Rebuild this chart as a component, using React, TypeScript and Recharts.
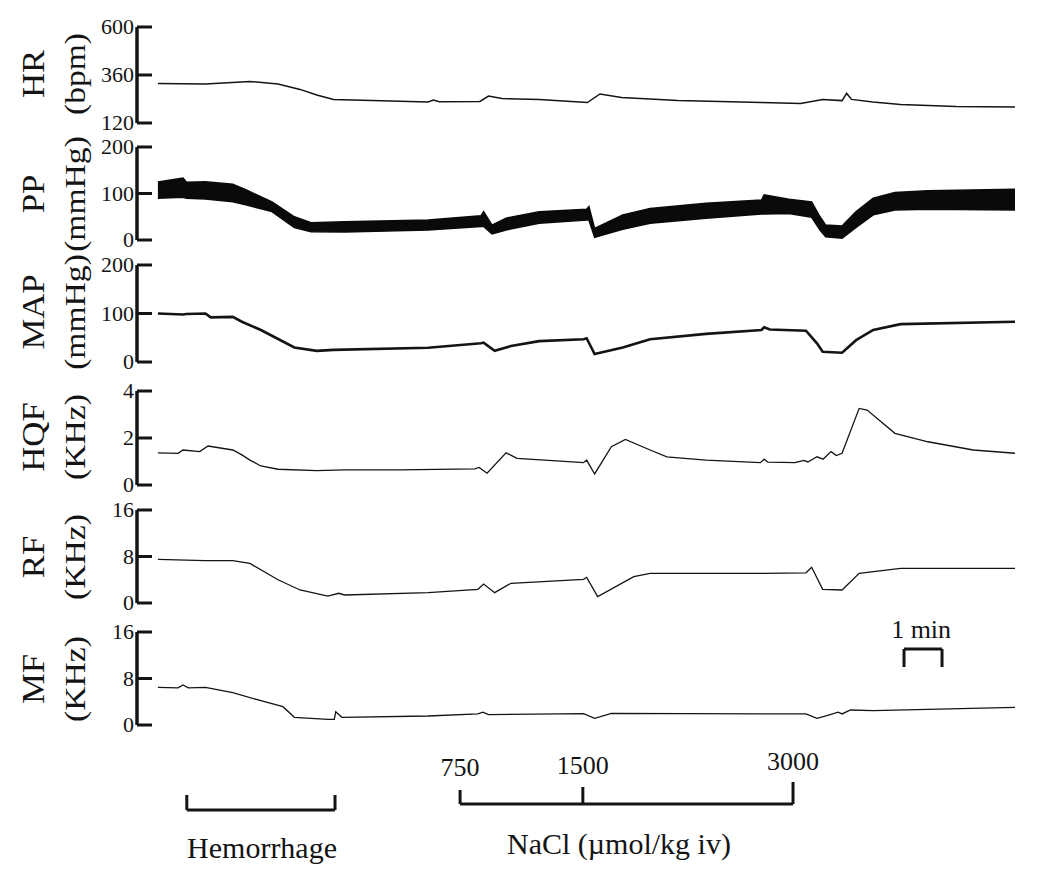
import React from 'react';
import { LineChart, Line, AreaChart, Area, XAxis, YAxis, ReferenceLine, ReferenceDot, Label } from 'recharts';

// ---------- data (time in minutes from start of recording) ----------
const hrTime = [0, 1.25, 2.42, 3.16, 3.74, 4.18, 4.62, 5.63, 7.11, 7.25, 7.4, 8.47, 8.7, 9.05, 10.03, 11.3, 11.63, 12.2, 13.68, 15.88, 16.91, 17.49, 18.0, 18.12, 18.25, 18.81, 19.54, 21.0, 22.55];
const hrValues = [318, 315, 328, 315, 288, 260, 238, 232, 225, 235, 226, 228, 255, 242, 238, 222, 265, 248, 232, 222, 218, 238, 232, 268, 238, 225, 212, 202, 200];

const ppTime = [0, 0.66, 0.75, 1.25, 1.97, 2.34, 3.0, 3.59, 4.03, 4.91, 7.11, 8.5, 8.57, 8.79, 9.16, 10.03, 11.28, 11.34, 11.49, 12.23, 12.95, 14.42, 15.88, 15.95, 16.6, 17.2, 17.42, 17.57, 18.0, 18.37, 18.82, 19.39, 20.26, 22.55];
const ppHigh = [125, 133, 124, 125, 120, 107, 82, 50, 37, 39, 43, 52, 61, 32, 47, 61, 66, 72, 25, 54, 68, 79, 86, 97, 87.5, 82, 50, 32, 30, 61, 90, 102, 106, 109];
const ppLow = [90, 92, 90, 88, 82, 75, 61, 27, 18, 17, 21.5, 29, 29, 13, 21.5, 36, 43, 43, 6, 23, 36, 47, 56, 56, 57, 49, 21.5, 7, 4, 27, 54, 64.5, 66, 64.5];

const mapTime = [0, 0.66, 0.75, 1.25, 1.39, 1.97, 2.21, 2.71, 3.59, 4.18, 4.62, 7.11, 8.5, 8.57, 8.86, 9.29, 10.03, 11.2, 11.28, 11.49, 12.23, 12.95, 14.42, 15.88, 15.95, 16.1, 17.05, 17.34, 17.49, 18.0, 18.37, 18.82, 19.54, 22.55];
const mapValues = [100, 98, 99, 100, 92, 93, 83, 66, 30, 23, 25, 29.5, 38.5, 40, 23, 33, 43, 47, 49, 16.5, 30, 47, 58, 66, 71.5, 67, 64.5, 38.5, 21, 19, 45, 66, 78, 83];

const hqfTime = [0, 0.53, 0.66, 1.1, 1.32, 1.97, 2.21, 2.42, 2.71, 3.16, 4.18, 4.91, 6.37, 8.34, 8.45, 8.66, 9.16, 9.45, 11.2, 11.28, 11.49, 11.93, 12.3, 12.95, 13.39, 14.42, 15.85, 15.95, 16.05, 16.76, 17.0, 17.1, 17.34, 17.5, 17.71, 17.85, 18.0, 18.45, 18.66, 19.39, 20.26, 21.45, 22.55];
const hqfValues = [1.37, 1.35, 1.49, 1.42, 1.66, 1.49, 1.28, 1.06, 0.81, 0.67, 0.61, 0.64, 0.64, 0.69, 0.75, 0.5, 1.37, 1.13, 0.95, 1.06, 0.47, 1.63, 1.94, 1.49, 1.2, 1.06, 0.95, 1.1, 0.97, 0.95, 1.05, 0.98, 1.2, 1.1, 1.42, 1.25, 1.35, 3.26, 3.19, 2.2, 1.84, 1.49, 1.35];

const rfTime = [0, 1.25, 1.97, 2.42, 3.16, 3.74, 4.47, 4.76, 4.91, 7.11, 8.42, 8.57, 8.86, 9.29, 11.2, 11.28, 11.57, 12.52, 12.95, 15.88, 17.05, 17.2, 17.49, 18.0, 18.45, 19.54, 22.55];
const rfValues = [7.5, 7.3, 7.3, 6.8, 4.0, 2.24, 1.2, 1.67, 1.38, 1.78, 2.36, 3.27, 1.78, 3.39, 4.07, 4.42, 1.09, 4.53, 5.1, 5.1, 5.2, 6.14, 2.36, 2.24, 5.1, 5.97, 5.97];

const mfTime = [0, 0.53, 0.66, 0.8, 1.25, 1.97, 2.71, 3.29, 3.59, 4.47, 4.64, 4.68, 4.84, 7.11, 8.42, 8.55, 8.7, 11.2, 11.49, 11.93, 15.88, 17.05, 17.34, 17.6, 17.9, 18.0, 18.22, 18.82, 22.55];
const mfValues = [6.49, 6.4, 6.88, 6.4, 6.49, 5.56, 4.18, 3.15, 1.32, 0.97, 0.97, 2.29, 1.32, 1.55, 1.9, 2.2, 1.8, 1.95, 1.15, 2.0, 1.9, 1.9, 1.15, 1.6, 2.2, 1.9, 2.58, 2.46, 3.04];

const hrTicks = [120, 360, 600];
const ppTicks = [0, 100, 200];
const mapTicks = [0, 100, 200];
const hqfTicks = [0, 2, 4];
const rfTicks = [0, 8, 16];
const mfTicks = [0, 8, 16];

const panelNames = ['HR', 'PP', 'MAP', 'HQF', 'RF', 'MF'];
const panelUnits = ['(bpm)', '(mmHg)', '(mmHg)', '(KHz)', '(KHz)', '(KHz)'];

// events
const hemorrhageWindow = [0.76, 4.66];
const naclTimes = [7.95, 11.18, 16.71];
const naclDoses = ['750', '1500', '3000'];
const scaleBar = [19.63, 20.63];

// ---------- style / layout ----------
const X_DOMAIN: [number, number] = [-0.55, 22.55];
const FONT = '"Liberation Serif", "Times New Roman", Times, serif';
const INK = '#141414';
const CHART_W = 1050;
const PLOT_LEFT = 137;
const RIGHT_MARGIN = 35;

const zip = (ts: number[], vs: number[]) => ts.map((t, i) => ({ t, v: vs[i] }));

const AxisTick = (props: any) => {
  const { x, y, payload } = props;
  return (
    <g>
      <line x1={x} x2={x + 15} y1={y} y2={y} stroke={INK} strokeWidth={3} />
      <text x={x - 3} y={y + 7} textAnchor="end" fontFamily={FONT} fontSize={22} fill={INK}>
        {payload.value}
      </text>
    </g>
  );
};

type PanelDef = {
  top: number;
  bottom: number;
  domain: [number, number];
  ticks: number[];
  kind: 'line' | 'band';
  data: any[];
  strokeWidth: number;
  labelY: number;
};

const panels: PanelDef[] = [
  { top: 27, bottom: 123, domain: [120, 600], ticks: hrTicks, kind: 'line', data: zip(hrTime, hrValues), strokeWidth: 1.5, labelY: 74 },
  { top: 147, bottom: 240, domain: [0, 200], ticks: ppTicks, kind: 'band', data: ppTime.map((t, i) => ({ t, range: [ppLow[i], ppHigh[i]] })), strokeWidth: 1.5, labelY: 194 },
  { top: 265, bottom: 362, domain: [0, 200], ticks: mapTicks, kind: 'line', data: zip(mapTime, mapValues), strokeWidth: 2.6, labelY: 312 },
  { top: 391, bottom: 485, domain: [0, 4], ticks: hqfTicks, kind: 'line', data: zip(hqfTime, hqfValues), strokeWidth: 1.3, labelY: 437 },
  { top: 510, bottom: 603, domain: [0, 16], ticks: rfTicks, kind: 'line', data: zip(rfTime, rfValues), strokeWidth: 1.3, labelY: 557 },
  { top: 632, bottom: 725, domain: [0, 16], ticks: mfTicks, kind: 'line', data: zip(mfTime, mfValues), strokeWidth: 1.3, labelY: 679 },
];

const PAD = 18;

function Panel({ p }: { p: PanelDef }) {
  const h = p.bottom - p.top + PAD * 2;
  const common = {
    width: CHART_W,
    height: h,
    data: p.data,
    margin: { top: PAD, right: RIGHT_MARGIN, bottom: PAD, left: 0 },
    style: { overflow: 'visible' },
  };
  const axes = [
    <XAxis key="x" dataKey="t" type="number" domain={X_DOMAIN} hide allowDataOverflow />,
    <YAxis
      key="y"
      width={PLOT_LEFT}
      domain={p.domain}
      ticks={p.ticks}
      interval={0}
      allowDataOverflow
      tickSize={0}
      tickMargin={0}
      tickLine={false}
      axisLine={{ stroke: INK, strokeWidth: 3.5 }}
      tick={(tp: any) => <AxisTick {...tp} />}
    />,
  ];
  return (
    <div style={{ position: 'absolute', left: 0, top: p.top - PAD }}>
      {p.kind === 'band' ? (
        <AreaChart {...common}>
          {axes}
          <Area
            dataKey="range"
            type="linear"
            stroke="#0a0a0a"
            strokeWidth={p.strokeWidth}
            fill="#0a0a0a"
            fillOpacity={1}
            isAnimationActive={false}
            dot={false}
            activeDot={false}
          />
        </AreaChart>
      ) : (
        <LineChart {...common}>
          {axes}
          <Line
            dataKey="v"
            type="linear"
            stroke={INK}
            strokeWidth={p.strokeWidth}
            dot={false}
            activeDot={false}
            isAnimationActive={false}
          />
        </LineChart>
      )}
    </div>
  );
}

const ANN_TOP = 600;
const ANN_H = 290;

function Annotations() {
  const seg = (x1: number, y1: number, x2: number, y2: number, k: string) => (
    <ReferenceLine
      key={k}
      segment={[{ x: x1, y: y1 }, { x: x2, y: y2 }]}
      stroke={INK}
      strokeWidth={3}
      ifOverflow="visible"
    />
  );
  const txt = (x: number, y: number, value: string, size: number, k: string) => (
    <ReferenceDot key={k} x={x} y={y} r={0} fill="none" stroke="none" ifOverflow="visible">
      <Label value={value} position="center" fontFamily={FONT} fontSize={size} fill={INK} />
    </ReferenceDot>
  );
  const naclHeights = [190, 187, 182];
  const doseY = [167, 165, 161];
  return (
    <div style={{ position: 'absolute', left: 0, top: ANN_TOP }}>
      <LineChart width={CHART_W} height={ANN_H} data={[{ t: 0, v: 0 }]} margin={{ top: 0, right: RIGHT_MARGIN, bottom: 0, left: PLOT_LEFT }}>
        <XAxis dataKey="t" type="number" domain={X_DOMAIN} hide allowDataOverflow />
        <YAxis type="number" domain={[0, ANN_H]} reversed hide allowDataOverflow />
        {/* hemorrhage bracket */}
        {seg(hemorrhageWindow[0], 210, hemorrhageWindow[1], 210, 'h0')}
        {seg(hemorrhageWindow[0], 195, hemorrhageWindow[0], 210, 'h1')}
        {seg(hemorrhageWindow[1], 195, hemorrhageWindow[1], 210, 'h2')}
        {txt((hemorrhageWindow[0] + hemorrhageWindow[1]) / 2 + 0.03, 247, 'Hemorrhage', 30, 'ht')}
        {/* NaCl bracket */}
        {seg(naclTimes[0], 204, naclTimes[2], 204, 'n0')}
        {naclTimes.map((t, i) => seg(t, naclHeights[i], t, 204, 'nv' + i))}
        {naclTimes.map((t, i) => txt(t, doseY[i], naclDoses[i], 26, 'nd' + i))}
        {txt(12.13, 243, 'NaCl (\u00b5mol/kg iv)', 30, 'nt')}
        {/* time scale bar */}
        {seg(scaleBar[0], 49, scaleBar[1], 49, 's0')}
        {seg(scaleBar[0], 49, scaleBar[0], 67, 's1')}
        {seg(scaleBar[1], 49, scaleBar[1], 67, 's2')}
        {txt((scaleBar[0] + scaleBar[1]) / 2 - 0.05, 29, '1 min', 26, 'st')}
        <Line dataKey="v" stroke="none" dot={false} activeDot={false} isAnimationActive={false} />
      </LineChart>
    </div>
  );
}

function Titles() {
  return (
    <svg width={CHART_W} height={890} style={{ position: 'absolute', left: 0, top: 0, pointerEvents: 'none' }}>
      {panels.map((p, i) => (
        <g key={i} fontFamily={FONT} fill={INK}>
          <text
            transform={`translate(34, ${p.labelY}) rotate(-90) scale(1.12, 1)`}
            textAnchor="middle"
            dominantBaseline="central"
            fontSize={31}
          >
            {panelNames[i]}
          </text>
          <text
            transform={`translate(75, ${p.labelY}) rotate(-90) scale(1.12, 1)`}
            textAnchor="middle"
            dominantBaseline="central"
            fontSize={30}
          >
            {panelUnits[i]}
          </text>
        </g>
      ))}
    </svg>
  );
}

export default function App() {
  return (
    <div style={{ position: 'absolute', left: 0, top: 0, width: CHART_W, height: 890, background: '#fff', fontFamily: FONT }}>
      {panels.map((p, i) => (
        <Panel key={i} p={p} />
      ))}
      <Annotations />
      <Titles />
    </div>
  );
}
